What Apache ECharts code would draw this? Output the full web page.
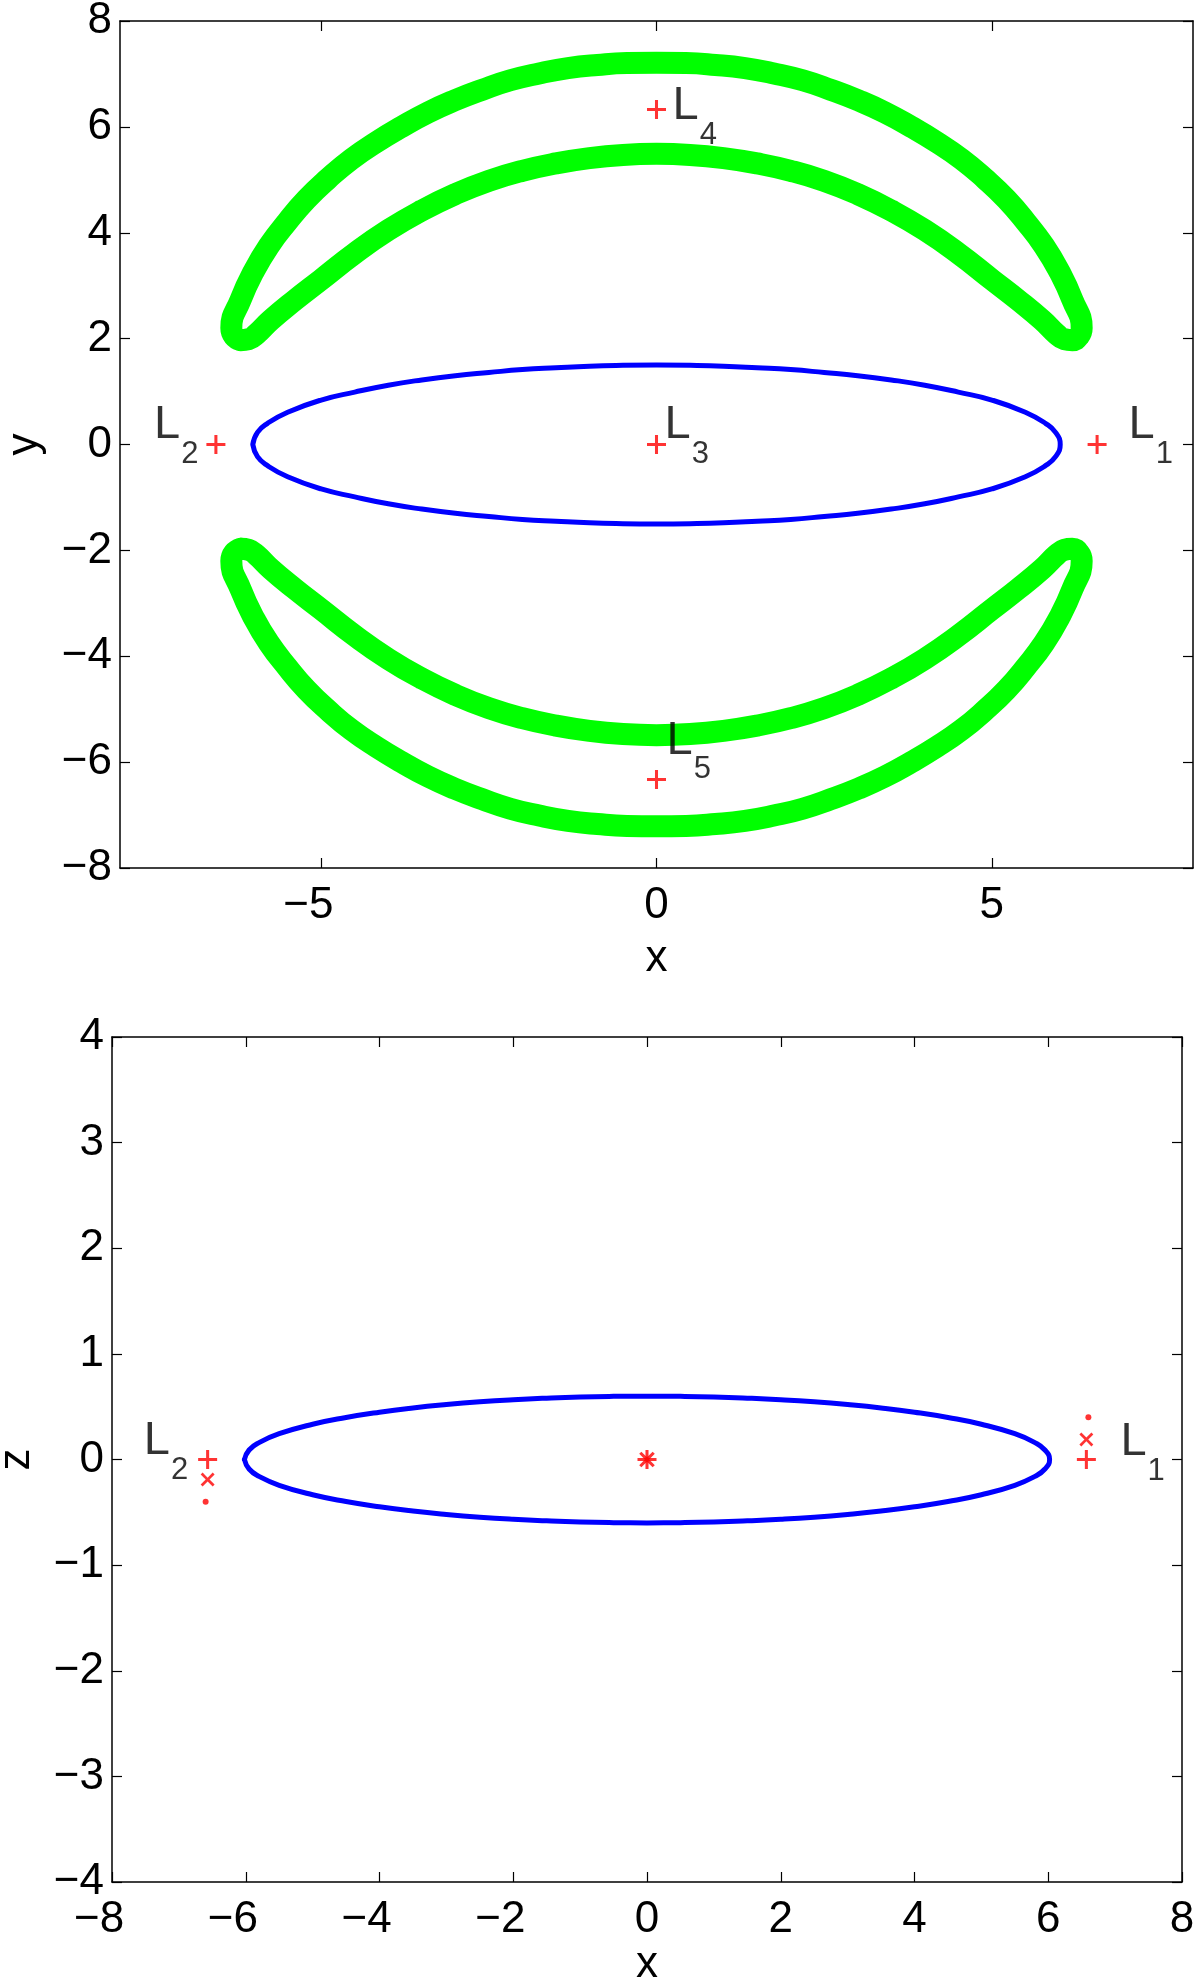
<!DOCTYPE html>
<html><head><meta charset="utf-8">
<script src="https://cdn.jsdelivr.net/npm/echarts@6/dist/echarts.min.js"></script>
<style>html,body{margin:0;padding:0;background:#fff}#c{width:1200px;height:1978px}</style>
</head><body><div id="c"></div>
<script>
// ---------- top panel (x-y plane) ----------
const topEllipse = [[-6.02,0],[-5.95,0.23],[-5.8,0.4],[-5.5,0.61],[-5,0.84],[-4.5,0.99],[-4,1.12],[-3.5,1.22],[-3,1.3],[-2.5,1.36],[-2,1.415],[-1.5,1.45],[-1,1.48],[-0.5,1.495],[0,1.5],[0.5,1.495],[1,1.48],[1.5,1.45],[2,1.415],[2.5,1.36],[3,1.3],[3.5,1.22],[4,1.12],[4.5,0.99],[5,0.84],[5.5,0.61],[5.8,0.4],[5.95,0.23],[6.02,0],[5.95,-0.23],[5.8,-0.4],[5.5,-0.61],[5,-0.84],[4.5,-0.99],[4,-1.12],[3.5,-1.22],[3,-1.3],[2.5,-1.36],[2,-1.415],[1.5,-1.45],[1,-1.48],[0.5,-1.495],[0,-1.5],[-0.5,-1.495],[-1,-1.48],[-1.5,-1.45],[-2,-1.415],[-2.5,-1.36],[-3,-1.3],[-3.5,-1.22],[-4,-1.12],[-4.5,-0.99],[-5,-0.84],[-5.5,-0.61],[-5.8,-0.4],[-5.95,-0.23],[-6.02,0]];
// upper crescent: outer arc left -> right, right tip, inner arc right -> left, left tip
const upperCrescent = [[-6.2,1.97],[-6.3,2.05],[-6.34,2.2],[-6.2,2.74],[-6.01,3.26],[-5.78,3.75],[-5.51,4.2],[-5.22,4.63],[-4.89,5.03],[-4.55,5.39],[-4.18,5.71],[-3.8,6.0],[-3.41,6.27],[-3.01,6.5],[-2.6,6.7],[-2.18,6.88],[-1.75,7.01],[-1.32,7.11],[-0.88,7.17],[-0.44,7.205],[0,7.21],[0.44,7.205],[0.88,7.17],[1.32,7.11],[1.75,7.01],[2.18,6.88],[2.6,6.7],[3.01,6.5],[3.41,6.27],[3.8,6.0],[4.18,5.71],[4.55,5.39],[4.89,5.03],[5.22,4.63],[5.51,4.2],[5.78,3.75],[6.01,3.26],[6.2,2.74],[6.34,2.2],[6.3,2.05],[6.2,1.97],[6.08,1.99],[5.97,2.08],[5.75,2.35],[5.4,2.72],[5.0,3.115],[4.5,3.61],[4.0,4.05],[3.5,4.42],[3.0,4.73],[2.5,4.98],[2.0,5.17],[1.5,5.31],[1.0,5.41],[0.5,5.47],[0,5.49],[-0.5,5.47],[-1.0,5.41],[-1.5,5.31],[-2.0,5.17],[-2.5,4.98],[-3.0,4.73],[-3.5,4.42],[-4.0,4.05],[-4.5,3.61],[-5.0,3.115],[-5.4,2.72],[-5.75,2.35],[-5.97,2.08],[-6.08,1.99],[-6.2,1.97]];
const lowerCrescent = [[-6.2,-1.97],[-6.3,-2.05],[-6.34,-2.2],[-6.2,-2.74],[-6.01,-3.26],[-5.78,-3.75],[-5.51,-4.2],[-5.22,-4.63],[-4.89,-5.03],[-4.55,-5.39],[-4.18,-5.71],[-3.8,-6.0],[-3.41,-6.27],[-3.01,-6.5],[-2.6,-6.7],[-2.18,-6.88],[-1.75,-7.01],[-1.32,-7.11],[-0.88,-7.17],[-0.44,-7.205],[0,-7.21],[0.44,-7.205],[0.88,-7.17],[1.32,-7.11],[1.75,-7.01],[2.18,-6.88],[2.6,-6.7],[3.01,-6.5],[3.41,-6.27],[3.8,-6.0],[4.18,-5.71],[4.55,-5.39],[4.89,-5.03],[5.22,-4.63],[5.51,-4.2],[5.78,-3.75],[6.01,-3.26],[6.2,-2.74],[6.34,-2.2],[6.3,-2.05],[6.2,-1.97],[6.08,-1.99],[5.97,-2.08],[5.75,-2.35],[5.4,-2.72],[5.0,-3.115],[4.5,-3.61],[4.0,-4.05],[3.5,-4.42],[3.0,-4.73],[2.5,-4.98],[2.0,-5.17],[1.5,-5.31],[1.0,-5.41],[0.5,-5.47],[0,-5.49],[-0.5,-5.47],[-1.0,-5.41],[-1.5,-5.31],[-2.0,-5.17],[-2.5,-4.98],[-3.0,-4.73],[-3.5,-4.42],[-4.0,-4.05],[-4.5,-3.61],[-5.0,-3.115],[-5.4,-2.72],[-5.75,-2.35],[-5.97,-2.08],[-6.08,-1.99],[-6.2,-1.97]];
const topPlus = [[6.57,0],[-6.57,0],[0,0],[0,6.33],[0,-6.33]];
const topLabelSub = ['1','2','3','4','5'];
const topLabelAt = [[7.04,0.36],[-6.83,0.36],[0.12,0.36],[0.24,6.39],[0.15,-5.6]];
const topXTicks = [-5,0,5];

// ---------- bottom panel (x-z plane) ----------
const botEllipse = [[-6.02,0],[-5.95,0.09],[-5.8,0.16],[-5.5,0.244],[-5,0.334],[-4.5,0.398],[-4,0.448],[-3.5,0.488],[-3,0.52],[-2.5,0.546],[-2,0.566],[-1.5,0.581],[-1,0.592],[-0.5,0.598],[0,0.6],[0.5,0.598],[1,0.592],[1.5,0.581],[2,0.566],[2.5,0.546],[3,0.52],[3.5,0.488],[4,0.448],[4.5,0.398],[5,0.334],[5.5,0.244],[5.8,0.16],[5.95,0.09],[6.02,0],[5.95,-0.09],[5.8,-0.16],[5.5,-0.244],[5,-0.334],[4.5,-0.398],[4,-0.448],[3.5,-0.488],[3,-0.52],[2.5,-0.546],[2,-0.566],[1.5,-0.581],[1,-0.592],[0.5,-0.598],[0,-0.6],[-0.5,-0.598],[-1,-0.592],[-1.5,-0.581],[-2,-0.566],[-2.5,-0.546],[-3,-0.52],[-3.5,-0.488],[-4,-0.448],[-4.5,-0.398],[-5,-0.334],[-5.5,-0.244],[-5.8,-0.16],[-5.95,-0.09],[-6.02,0]];
const botPlus = [[6.57,0],[-6.57,0]];
const botCross = [[6.57,0.19],[-6.57,-0.19]];
const botDot = [[6.6,0.4],[-6.6,-0.4]];
const botStar = [[0,0]];
const botLabelSub = ['1','2'];
const botLabelAt = [[7.08,0.165],[-6.86,0.17]];

const FONT = '"Liberation Sans", Arial, Helvetica, sans-serif';
const TICK_FS = 44;
const PLUS = 'path://M4.2,0H5.8V4.2H10V5.8H5.8V10H4.2V5.8H0V4.2H4.2Z';
const minus = v => (v < 0 ? '\u2212' : '') + Math.abs(v);

function xLabelFmt(v) {
  return v < 0 ? '{n|' + minus(v) + '}{h|\u2212}' : '{n|' + v + '}';
}
const xRich = {
  n: {fontSize: TICK_FS, fontFamily: FONT, color: '#000'},
  h: {fontSize: TICK_FS, fontFamily: FONT, color: 'rgba(0,0,0,0)'}
};

function axisBase(extra) {
  return Object.assign({
    type: 'value',
    axisLine: {show: true, onZero: false, lineStyle: {color: '#000', width: 1.5}},
    axisTick: {show: true, inside: true, length: 10, lineStyle: {color: '#000', width: 1.2}},
    splitLine: {show: false},
    nameTextStyle: {fontSize: TICK_FS, fontFamily: FONT, color: '#000'}
  }, extra);
}

const labelRich = {
  m: {fontSize: 47, fontFamily: FONT, color: '#000', lineHeight: 47},
  s: {fontSize: 31, fontFamily: FONT, color: '#000', lineHeight: 31, padding: [58, 0, 0, 1]}
};
function labelSeries(subs, at, xi, yi, rightIdx) {
  return {
    type: 'scatter', xAxisIndex: xi, yAxisIndex: yi, symbolSize: 0, silent: true, z: 10,
    data: at.map((p, i) => ({
      value: p,
      label: {show: true, position: [0, 0], align: i === rightIdx ? 'right' : 'left', verticalAlign: 'middle',
        formatter: '{m|L}{s|' + subs[i] + '}', rich: labelRich}
    }))
  };
}

function lineSeries(data, color, width, xi, yi) {
  return {
    type: 'line', data: data, xAxisIndex: xi, yAxisIndex: yi, symbol: 'none', smooth: 0.5, silent: true,
    lineStyle: {color: color, width: width, cap: 'round', join: 'round'}
  };
}
function markSeries(data, symbol, size, rotate, xi, yi) {
  return {
    type: 'scatter', data: data, xAxisIndex: xi, yAxisIndex: yi, symbol: symbol, symbolSize: size,
    symbolRotate: rotate, silent: true, z: 5, itemStyle: {color: '#ff0000'}
  };
}

const chart = echarts.init(document.getElementById('c'), null, {renderer: 'canvas'});
chart.setOption({
  animation: false,
  backgroundColor: '#fff',
  grid: [
    {left: 120, top: 21, width: 1073, height: 847, containLabel: false, outerBoundsMode: 'none'},
    {left: 112, top: 1037, width: 1070, height: 845, containLabel: false, outerBoundsMode: 'none'}
  ],
  xAxis: [
    axisBase({gridIndex: 0, position: 'bottom', min: -8, max: 8, name: 'x', nameLocation: 'middle', nameGap: 69,
      axisTick: {show: true, inside: true, length: 10, customValues: topXTicks, lineStyle: {color: '#000', width: 1.2}},
      axisLabel: {customValues: topXTicks, margin: 16, formatter: xLabelFmt, rich: xRich}}),
    axisBase({gridIndex: 0, position: 'top', min: -8, max: 8,
      axisTick: {show: true, inside: true, length: 10, customValues: topXTicks, lineStyle: {color: '#000', width: 1.2}},
      axisLabel: {show: false}}),
    axisBase({gridIndex: 1, position: 'bottom', min: -8, max: 8, interval: 2, name: 'x', nameLocation: 'middle', nameGap: 60,
      axisLabel: {margin: 16, formatter: xLabelFmt, rich: xRich}}),
    axisBase({gridIndex: 1, position: 'top', min: -8, max: 8, interval: 2, axisLabel: {show: false}})
  ],
  yAxis: [
    axisBase({gridIndex: 0, position: 'left', min: -8, max: 8, interval: 2, name: 'y', nameLocation: 'middle', nameGap: 73,
      axisLabel: {margin: 8, fontSize: TICK_FS, fontFamily: FONT, color: '#000', formatter: minus}}),
    axisBase({gridIndex: 0, position: 'right', min: -8, max: 8, interval: 2, axisLabel: {show: false}}),
    axisBase({gridIndex: 1, position: 'left', min: -4, max: 4, interval: 1, name: 'z', nameLocation: 'middle', nameGap: 73,
      axisLabel: {margin: 8, fontSize: TICK_FS, fontFamily: FONT, color: '#000', formatter: minus}}),
    axisBase({gridIndex: 1, position: 'right', min: -4, max: 4, interval: 1, axisLabel: {show: false}})
  ],
  series: [
    lineSeries(upperCrescent, '#00ff00', 22, 0, 0),
    lineSeries(lowerCrescent, '#00ff00', 22, 0, 0),
    lineSeries(topEllipse, '#0000ff', 5, 0, 0),
    markSeries(topPlus, PLUS, 19, 0, 0, 0),
    labelSeries(topLabelSub, topLabelAt, 0, 0, 1),
    lineSeries(botEllipse, '#0000ff', 5, 2, 2),
    markSeries(botPlus, PLUS, 19, 0, 2, 2),
    markSeries(botCross, PLUS, 17, 45, 2, 2),
    markSeries(botDot, 'circle', 6, 0, 2, 2),
    markSeries(botStar, PLUS, 19, 0, 2, 2),
    markSeries(botStar, PLUS, 19, 45, 2, 2),
    labelSeries(botLabelSub, botLabelAt, 2, 2, 1)
  ]
});
</script></body></html>
